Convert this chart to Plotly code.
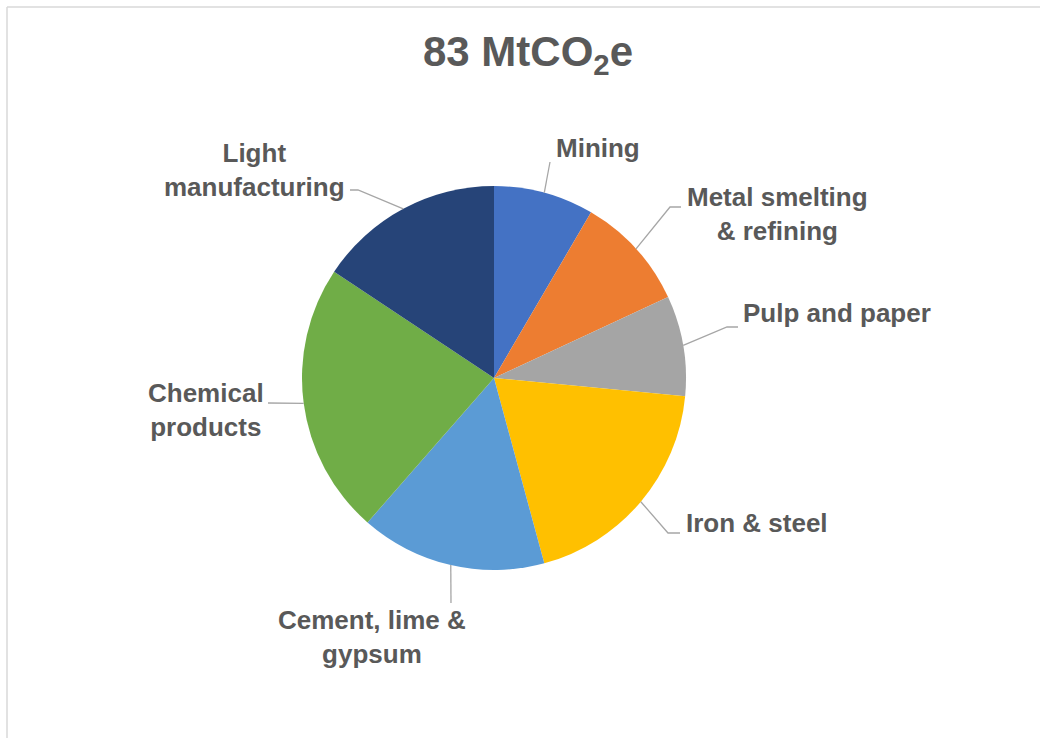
import math
import plotly.graph_objects as go

# ---------------- data ----------------
sectors = ["Mining", "Metal smelting & refining", "Pulp and paper", "Iron & steel",
           "Cement, lime & gypsum", "Chemical products", "Light manufacturing"]
label_text = ["Mining", "Metal smelting<br>& refining", "Pulp and paper", "Iron & steel",
              "Cement, lime &<br>gypsum", "Chemical<br>products", "Light<br>manufacturing"]
emissions = [7, 8, 7, 16, 13, 19, 13]  # MtCO2e
colors = ["#4472C4", "#ED7D31", "#A5A5A5", "#FFC000", "#5B9BD5", "#70AD47", "#264478"]
title_text = "83 MtCO<sub>2</sub>e"

# ---------------- layout helpers ----------------
W, H = 1040, 738
CX, CY, R = 494, 378, 192
FONT = "Arial, Liberation Sans, sans-serif"
TXT = "#595959"


def px(x):
    return x / W


def py(y):
    return 1 - y / H


# label placement (pixels): text anchor, alignment, leader-line bend/end points
label_style = [
    dict(tx=554, ty=148, xa="left", pts=[(550, 162)]),
    dict(tx=777, ty=214, xa="center", pts=[(670, 207), (681, 207)]),
    dict(tx=741, ty=313, xa="left", pts=[(727, 327), (738, 327)]),
    dict(tx=684, ty=523, xa="left", pts=[(668, 533), (680, 533)]),
    dict(tx=372, ty=637, xa="center", pts=[(451, 603)]),
    dict(tx=206, ty=410, xa="center", pts=[(268, 403)]),
    dict(tx=254, ty=170, xa="center", pts=[(358, 190), (350, 190)]),
]

fig = go.Figure(go.Pie(
    labels=sectors,
    values=emissions,
    marker=dict(colors=colors, line=dict(width=0)),
    sort=False,
    direction="clockwise",
    rotation=0,
    textinfo="none",
    hoverinfo="label+value+percent",
    showlegend=False,
    domain=dict(x=[px(CX - R), px(CX + R)], y=[py(CY + R), py(CY - R)]),
))

total = sum(emissions)
shapes = []
annotations = []
cum = 0.0
for txt, val, st in zip(label_text, emissions, label_style):
    mid = (cum + val / 2) / total * 2 * math.pi
    cum += val
    sx = CX + R * math.sin(mid)
    sy = CY - R * math.cos(mid)
    path = f"M {px(sx)} {py(sy)}"
    for (x, y) in st["pts"]:
        path += f" L {px(x)} {py(y)}"
    shapes.append(dict(type="path", xref="paper", yref="paper", path=path,
                       line=dict(color="#A6A6A6", width=1.3)))
    annotations.append(dict(
        x=px(st["tx"]), y=py(st["ty"]), xref="paper", yref="paper",
        xanchor=st["xa"], yanchor="middle", align="center", showarrow=False,
        text=txt, font=dict(family=FONT, size=26, color=TXT, weight="bold"),
    ))

# chart border (top and left visible)
shapes.append(dict(type="line", xref="paper", yref="paper",
                   x0=px(7), y0=py(7), x1=px(W + 5), y1=py(7),
                   line=dict(color="#D9D9D9", width=1.5)))
shapes.append(dict(type="line", xref="paper", yref="paper",
                   x0=px(7), y0=py(7), x1=px(7), y1=py(H + 5),
                   line=dict(color="#D9D9D9", width=1.5)))

fig.update_layout(
    width=W, height=H,
    margin=dict(l=0, r=0, t=0, b=0),
    paper_bgcolor="white", plot_bgcolor="white",
    title=dict(text=title_text, x=px(528), xanchor="center", y=py(51), yanchor="middle",
               font=dict(family=FONT, size=42, color=TXT, weight="bold")),
    shapes=shapes,
    annotations=annotations,
)

fig.write_html("out.html", config={"displayModeBar": False},
               post_script="document.body.style.margin='0';")
